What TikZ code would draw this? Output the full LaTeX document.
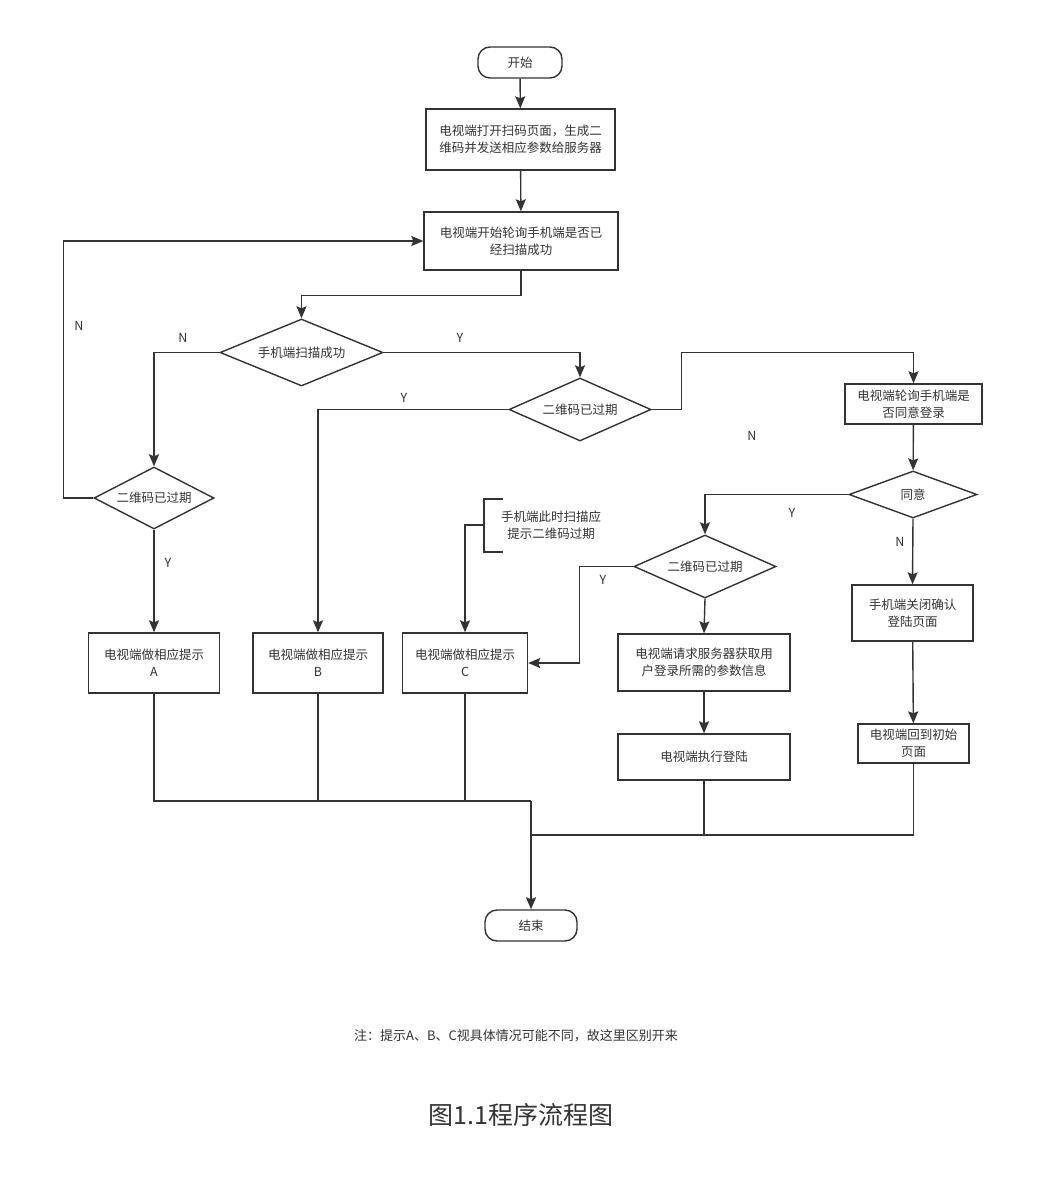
\documentclass[tikz,border=0pt]{standalone}
\usepackage{fontspec}
\setmainfont{Noto Sans CJK SC}
\usetikzlibrary{shapes.geometric,arrows.meta,calc}
\definecolor{inkgray}{HTML}{333333}

\begin{document}
\begin{tikzpicture}[x=1pt, y=-1pt, line width=1.4pt, color=inkgray,
    every node/.style={font=\fontsize{12.5}{17}\selectfont},
    proc/.style={draw, rectangle, align=center, inner sep=0pt},
    term/.style={draw, rectangle, rounded corners=12pt, inner sep=0pt},
    decision/.style={draw, diamond, inner sep=0pt, align=center, aspect=#1},
    lbl/.style={inner sep=0pt},
    arr/.style={-{Stealth[length=12pt, width=10pt, inset=2pt]}}]
    \useasboundingbox (0,0) rectangle (1062,1191);

    % Start and first steps
    \node[term, minimum width=84pt, minimum height=31pt] (start) at (520,62.5) {开始};
    \node[proc, minimum width=189pt, minimum height=61pt] (init) at (520.5,139.5) {电视端打开扫码页面，生成二\\维码并发送相应参数给服务器};
    \node[proc, minimum width=194pt, minimum height=58pt] (scanpoll) at (521,241) {电视端开始轮询手机端是否已\\经扫描成功};

    % Decisions
    \node[decision=2.43, minimum width=163pt, minimum height=67pt] (scanok) at (301.5,352.5) {手机端扫描成功};
    \node[decision=1.94, minimum width=120pt, minimum height=62pt] (expiredA) at (154,498) {二维码已过期};
    \node[decision=2.25, minimum width=142pt, minimum height=63pt] (expiredB) at (580,409.5) {二维码已过期};
    \node[decision=2.25, minimum width=142pt, minimum height=63pt] (expiredC) at (705,566.5) {二维码已过期};

    % Right branch - agree on phone
    \node[proc, minimum width=137pt, minimum height=40pt] (pollagree) at (913.5,404) {电视端轮询手机端是\\否同意登录};
    \node[decision=2.72, minimum width=128pt, minimum height=47pt] (agree) at (913,494.5) {同意};
    \node[proc, minimum width=121pt, minimum height=56pt] (close) at (912.5,613) {手机端关闭确认\\登陆页面};
    \node[proc, minimum width=111pt, minimum height=39pt] (back) at (913.5,743.5) {电视端回到初始\\页面};
    \node[proc, minimum width=172pt, minimum height=57pt] (fetch) at (704,662.5) {电视端请求服务器获取用\\户登录所需的参数信息};
    \node[proc, minimum width=172pt, minimum height=46pt] (login) at (704,757) {电视端执行登陆};

    % Tips A, B, C
    \node[proc, minimum width=131pt, minimum height=60pt] (tipA) at (154,663) {电视端做相应提示\\A};
    \node[proc, minimum width=130pt, minimum height=60pt] (tipB) at (318,663) {电视端做相应提示\\B};
    \node[proc, minimum width=125pt, minimum height=60pt] (tipC) at (465,663) {电视端做相应提示\\C};

    % End
    \node[term, minimum width=92pt, minimum height=31pt] (end) at (531,925.5) {结束};

    % Annotation
    \node[align=center] (anno) at (551,525) {手机端此时扫描应\\提示二维码过期};
    \coordinate (brk) at (484,525);
    \draw (503,499) -- (484,499) -- (484,552) -- (503,552);

    % Labels
    \node[lbl] (nScan) at (183,338) {N};
    \node[lbl] (yScan) at (460,338) {Y};
    \node[lbl] (nExpA) at (79,326) {N};
    \node[lbl] (yExpA) at (168,563) {Y};
    \node[lbl] (yExpB) at (404,398) {Y};
    \node[lbl] (nExpB) at (752,436) {N};
    \node[lbl] (yAgree) at (792,513) {Y};
    \node[lbl] (nAgree) at (900,542) {N};
    \node[lbl] (yExpC) at (603,580) {Y};

    % Main flow
    \draw[arr] (start) -- (init);
    \draw[arr] (init) -- (scanpoll);
    \draw[arr] (scanpoll.south) -- ++(0,25) -| (scanok.north);
    \draw[arr] (scanok.west) -| (expiredA.north);
    \draw[arr] (scanok.east) -| (expiredB.north);
    \draw[arr] (expiredA.west) -- ++(-30,0) |- (scanpoll.west);
    \draw[arr] (expiredA.south) -- (tipA.north);
    \draw[arr] (expiredB.west) -| (tipB.north);
    \draw[arr] (expiredB.east) -- ++(30,0) |- ($(pollagree.north)+(0,-31)$) -- (pollagree.north);

    % Agree branch
    \draw[arr] (pollagree) -- (agree);
    \draw[arr] (agree.west) -| (expiredC.north);
    \draw[arr] (agree.south) -- (close.north);
    \draw[arr] (close) -- (back);
    \draw[arr] (expiredC.west) -- ++(-54,0) |- (tipC.east);
    \draw[arr] (expiredC.south) -- (fetch.north);
    \draw[arr] (fetch) -- (login);
    \draw[arr] (brk) -| (tipC.north);

    % Merge into end
    \coordinate (joinL) at (531,801);
    \coordinate (joinR) at (531,835);
    \draw (tipA.south) |- (joinL);
    \draw (tipB.south) -- (tipB.south |- joinL);
    \draw (tipC.south) -- (tipC.south |- joinL);
    \draw (login.south) |- (joinR);
    \draw (back.south) |- (joinR);
    \draw[arr] (joinL) -- (end.north);

    % Footnote and caption
    \node (note) at (516,1036) {\fontsize{13}{15}\selectfont 注：提示A、B、C视具体情况可能不同，故这里区别开来};
    \node (title) at (521,1115) {\fontsize{25}{28}\selectfont 图1.1程序流程图};
\end{tikzpicture}
\end{document}
